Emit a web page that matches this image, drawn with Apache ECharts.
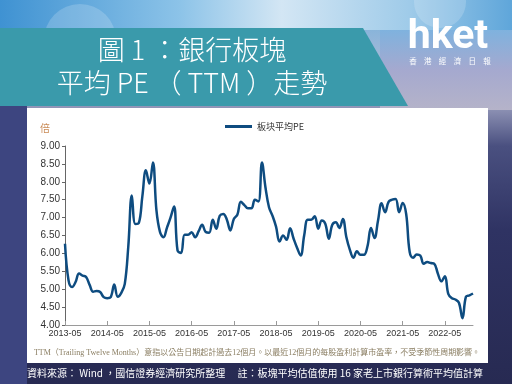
<!DOCTYPE html>
<html><head><meta charset="utf-8">
<script src="https://cdn.jsdelivr.net/npm/echarts@6/dist/echarts.min.js"></script>
<style>html,body{margin:0;padding:0;background:#2a2e5a}#c{width:512px;height:384px}</style>
</head><body><div id="c"></div>
<script>
// ---- data ----
const startYear = 2013, startMonth = 5, monthCount = 117;
const categories = [];
for (let i = 0; i < monthCount; i++) {
  const m = startMonth - 1 + i;
  const y = startYear + Math.floor(m / 12);
  const mm = (m % 12) + 1;
  categories.push(y + '-' + (mm < 10 ? '0' + mm : mm));
}
const peValues = [
  6.27, 5.25, 5.06, 5.20, 5.44, 5.38, 5.34, 5.12, 4.93, 4.95,
  4.92, 4.78, 4.75, 4.78, 5.13, 4.79, 4.90, 5.15, 6.20, 7.62,
  6.82, 6.85, 7.60, 8.32, 7.95, 8.54, 7.20, 6.60, 6.45, 6.72,
  7.00, 7.31, 6.08, 6.01, 6.52, 6.52, 6.59, 6.45, 6.62, 6.80,
  6.60, 6.58, 6.94, 6.69, 7.05, 7.10, 6.95, 6.64, 6.96, 7.08,
  7.44, 7.35, 7.26, 7.26, 7.50, 7.45, 8.54, 7.84, 7.29, 7.05,
  6.75, 6.33, 6.50, 6.38, 6.70, 6.41, 6.15, 5.94, 6.50, 6.94,
  6.94, 7.04, 6.69, 6.92, 6.83, 6.41, 6.80, 6.87, 6.71, 6.96,
  6.45, 6.10, 5.88, 6.06, 5.96, 5.96, 6.20, 6.71, 6.43, 6.92,
  7.40, 7.15, 7.44, 7.50, 7.52, 7.15, 7.41, 7.10, 6.04, 5.88,
  5.97, 5.94, 5.71, 5.76, 5.73, 5.71, 5.44, 5.22, 5.36, 4.86,
  4.75, 4.71, 4.62, 4.19, 4.79, 4.83, 4.88
];
const seriesName = '板块平均PE';
const yMin = 4, yMax = 9, yStep = 0.5;
const titleLine1 = '圖 1 ：銀行板塊';
const titleLine2 = '平均 PE （ TTM ）走勢';
const unitLabel = '倍';
const logoText = 'hket';
const logoSubChars = ['香', '港', '經', '濟', '日', '報'];
const footnote = 'TTM（Trailing Twelve Months）意指以公告日期起計過去12個月。以最近12個月的每股盈利計算市盈率，不受季節性周期影響。';
const sourceText = '資料來源： Wind ，國信證券經濟研究所整理　 註：板塊平均估值使用 16 家老上市銀行算術平均值計算';

const chart = echarts.init(document.getElementById('c'), null, {renderer: 'canvas'});
const CJK = '"Noto Sans CJK TC", "Noto Sans", sans-serif';
const graphics = [
  {type: 'rect', shape: {x: 0, y: 0, width: 512, height: 30}, silent: true, z: -10,
    style: {fill: {type: 'linear', x: 0, y: 0, x2: 1, y2: 0, colorStops: [
      {offset: 0, color: '#3f92d2'}, {offset: 0.35, color: '#8cc3e8'},
      {offset: 0.55, color: '#d3e6f4'}, {offset: 0.8, color: '#9fcbe9'}, {offset: 1, color: '#5fa6da'}]}}},
  {type: 'rect', shape: {x: 380, y: 30, width: 132, height: 80}, silent: true, z: -10,
    style: {fill: {type: 'linear', x: 0, y: 0, x2: 0, y2: 1, colorStops: [
      {offset: 0, color: '#7fb2de'}, {offset: 0.5, color: '#a5a9cf'}, {offset: 1, color: '#b5b3c9'}]}}},
  {type: 'rect', shape: {x: 0, y: 106, width: 27, height: 278}, silent: true, z: -9,
    style: {fill: '#3d4580'}},
  {type: 'circle', shape: {cx: 80, cy: 40, r: 36}, silent: true, z: -9,
    style: {fill: 'rgba(255,255,255,0.18)'}},
  {type: 'circle', shape: {cx: 440, cy: 2, r: 26}, silent: true, z: -9,
    style: {fill: 'rgba(255,255,255,0.18)'}},
  {type: 'polygon', shape: {points: [[0, 28], [363, 28], [408, 106], [0, 106]]}, silent: true, z: -8,
    style: {fill: '#3a9aab'}},
  {type: 'rect', shape: {x: 27, y: 108, width: 461, height: 255}, silent: true, z: -7,
    style: {fill: '#ffffff'}},
  {type: 'text', x: 192, y: 50, silent: true,
    style: {text: titleLine1, fill: '#ffffff', font: '300 27px ' + CJK, textAlign: 'center', textVerticalAlign: 'middle'}},
  {type: 'text', x: 192, y: 83, silent: true,
    style: {text: titleLine2, fill: '#ffffff', font: '300 27px ' + CJK, textAlign: 'center', textVerticalAlign: 'middle'}},
  {type: 'text', x: 448, y: 38, silent: true,
    style: {text: logoText, fill: '#ffffff', font: 'bold 41px Roboto, sans-serif', textAlign: 'center', textVerticalAlign: 'middle'}},
  {type: 'text', x: 40, y: 128, silent: true,
    style: {text: unitLabel, fill: '#c98a55', font: '10px ' + CJK, textAlign: 'left', textVerticalAlign: 'middle'}},
  {type: 'text', x: 257, y: 353, silent: true,
    style: {text: footnote, fill: '#8a7e62', font: '8px "Liberation Serif", ' + CJK, textAlign: 'center', textVerticalAlign: 'middle'}},
  {type: 'text', x: 255, y: 373, silent: true,
    style: {text: sourceText, fill: '#ffffff', font: '10px ' + CJK, textAlign: 'center', textVerticalAlign: 'middle'}}
];
logoSubChars.forEach((ch, i) => {
  graphics.push({type: 'text', x: 413 + i * 14.8, y: 61, silent: true,
    style: {text: ch, fill: '#ffffff', font: '7.5px ' + CJK, textAlign: 'center', textVerticalAlign: 'middle'}});
});
chart.setOption({
  animation: false,
  backgroundColor: {
    type: 'linear', x: 0, y: 0, x2: 0, y2: 1,
    colorStops: [
      {offset: 0, color: '#6fb0dc'},
      {offset: 0.22, color: '#b9bcd6'},
      {offset: 0.38, color: '#4a5080'},
      {offset: 0.6, color: '#2f3363'},
      {offset: 1, color: '#272a52'}
    ]
  },
  graphic: graphics,
  legend: {
    data: [seriesName], left: 220, top: 117, icon: 'rect', itemWidth: 27, itemHeight: 3, itemGap: 4,
    textStyle: {fontSize: 9, color: '#333', fontFamily: CJK}
  },
  grid: {left: 65, right: 39, top: 146, bottom: 59, containLabel: false},
  xAxis: {
    type: 'category', data: categories, boundaryGap: false,
    axisLine: {lineStyle: {color: '#9a9a9a', width: 1}},
    axisTick: {show: true, interval: 11, inside: true, length: 4, lineStyle: {color: '#9a9a9a'}},
    axisLabel: {interval: 11, fontSize: 9, color: '#333', margin: 4, fontFamily: '"Liberation Sans", sans-serif'}
  },
  yAxis: {
    type: 'value', min: yMin, max: yMax, interval: yStep,
    axisLine: {show: true, lineStyle: {color: '#666', width: 1}},
    axisTick: {show: true, length: 3, lineStyle: {color: '#666'}},
    splitLine: {show: false},
    axisLabel: {fontSize: 10, color: '#333', margin: 5, fontFamily: '"Liberation Sans", sans-serif',
      formatter: v => v.toFixed(2)}
  },
  series: [{
    name: seriesName, type: 'line', data: peValues, smooth: 0.4, symbol: 'none',
    lineStyle: {color: '#0e4c80', width: 2.5}, itemStyle: {color: '#0e4c80'}
  }]
});
</script></body></html>
